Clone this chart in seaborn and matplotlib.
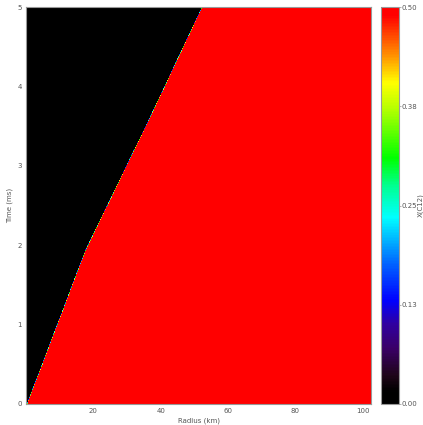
import numpy as np
import matplotlib
matplotlib.use("Agg")
import matplotlib.pyplot as plt
import seaborn as sns
from matplotlib.colors import LinearSegmentedColormap
from matplotlib.ticker import MultipleLocator

sns.set_theme(style="white")
plt.rcParams['font.family'] = ['DejaVu Sans']

# Burning front position (radius in km) read at several times (ms)
front_time = [0.0, 0.98, 1.94, 3.58, 5.0]
front_radius = [0.3, 9.1, 17.7, 36.5, 52.3]
value_behind = 0.0    # X(C12) left of front
value_ahead = 0.5     # X(C12) right of front
r_limits = [0.0, 102.5]
t_limits = [0.0, 5.0]
x_ticks = [20, 40, 60, 80, 100]
y_ticks = [0, 1, 2, 3, 4, 5]
cb_ticks = [0.0, 0.125, 0.25, 0.375, 0.5]
cb_labels = ["0.00", "0.13", "0.25", "0.38", "0.50"]

# IDL-like rainbow colour table
cmap_nodes = [(0.00, "#000000"), (0.03, "#000000"), (0.07, "#1e0518"),
              (0.14, "#3a0068"), (0.20, "#3000a0"), (0.26, "#0000ff"),
              (0.35, "#0060ff"), (0.47, "#00ffff"), (0.55, "#00ff90"),
              (0.62, "#00ff00"), (0.74, "#b0ff00"), (0.81, "#ffff00"),
              (0.88, "#ff9000"), (0.98, "#ff0000"), (1.00, "#ff0000")]
cmap = LinearSegmentedColormap.from_list("idl_rainbow", cmap_nodes, N=256)

r = np.linspace(r_limits[0], r_limits[1], 1200)
t = np.linspace(t_limits[0], t_limits[1], 600)
R, T = np.meshgrid(r, t)
rb = np.interp(T, front_time, front_radius)
width = 0.25
frac = np.clip((R - rb) / width + 0.5, 0, 1)
Z = value_behind + (value_ahead - value_behind) * frac

fig = plt.figure(figsize=(4.23, 4.25), dpi=100)
ax = fig.add_axes([26/423, 21/425, 345/423, 397/425])
cax = fig.add_axes([381/423, 21/425, 18/423, 397/425])

mesh = ax.pcolormesh(r, t, Z, cmap=cmap, vmin=0, vmax=0.5, shading="auto",
                     rasterized=True)
ax.set_xlim(r_limits)
ax.set_ylim(t_limits)
ax.set_xticks(x_ticks)
ax.set_yticks(y_ticks)
ax.xaxis.set_minor_locator(MultipleLocator(5))
ax.yaxis.set_minor_locator(MultipleLocator(0.2))
tc = "#555555"
fs = 5
ax.tick_params(which="both", direction="in", top=True, right=True,
               colors="#444444", labelcolor=tc, labelsize=fs, width=0.5)
ax.tick_params(which="major", length=5, pad=3)
ax.tick_params(which="minor", length=2.5)
for s in ax.spines.values():
    s.set_color("#999999")
    s.set_linewidth(0.8)
ax.set_xlabel("Radius (km)", fontsize=fs, color=tc, va="center")
ax.xaxis.set_label_coords(0.5, -0.043)
ax.set_ylabel("Time (ms)", fontsize=fs, color=tc, va="center")
ax.yaxis.set_label_coords(-0.047, 0.5)

cb = fig.colorbar(mesh, cax=cax, ticks=cb_ticks)
cb.ax.set_yticklabels(cb_labels)
cb.ax.tick_params(labelsize=fs, labelcolor=tc, length=1.5, width=0.4,
                  colors="#777777", pad=0.5)
cb.outline.set_edgecolor("#999999")
cb.outline.set_linewidth(0.8)
cb.set_label("X(C12)", fontsize=fs, color=tc, va="center")
cb.ax.yaxis.set_label_coords(2.2, 0.5)

fig.savefig("out.png", dpi=100)
